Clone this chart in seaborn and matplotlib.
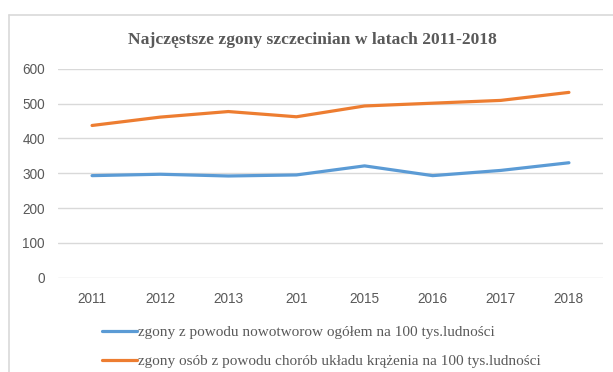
import matplotlib
matplotlib.use("Agg")
import matplotlib.pyplot as plt
import seaborn as sns
import pandas as pd
from matplotlib.lines import Line2D

# Year labels as printed on the axis
years = ["2011", "2012", "2013", "201", "2015", "2016", "2017", "2018"]
# Deaths per 100k inhabitants
cancer = [293, 297, 292, 295, 321, 293, 308, 330]
circulatory = [437, 461, 477, 462, 493, 501, 509, 532]
series_names = [
    "zgony z powodu nowotworow ogółem na 100 tys.ludności",
    "zgony osób z powodu chorób układu krążenia na 100 tys.ludności",
]
y_ticks = [0, 100, 200, 300, 400, 500, 600]

blue = "#5b9bd5"
orange = "#ed7d31"
grey_text = "#595959"
grid_col = "#d9d9d9"

sns.set_theme(style="white")
plt.rcParams["font.family"] = ["Liberation Sans", "DejaVu Sans"]

pos = list(range(len(years)))
df = pd.DataFrame({
    "pos": pos * 2,
    "value": cancer + circulatory,
    "series": [series_names[0]] * len(years) + [series_names[1]] * len(years),
})

fig = plt.figure(figsize=(6.13, 3.72), dpi=100)
fig.patch.set_facecolor("white")
ax = fig.add_axes([58 / 613, (372 - 277.7) / 372, 545 / 613, 209 / 372])

sns.lineplot(data=df, x="pos", y="value", hue="series",
             palette=[blue, orange], linewidth=2.3, ax=ax, legend=False,
             sort=False)
for ln in ax.get_lines():
    ln.set_solid_capstyle("round")
    ln.set_solid_joinstyle("round")

ax.set_xlim(-0.5, len(years) - 0.5)
ax.set_ylim(0, 600)
ax.set_yticks(y_ticks)
ax.set_xticks(pos)
ax.set_xticklabels(years)
ax.set_xlabel("")
ax.set_ylabel("")
ax.yaxis.grid(True, color=grid_col, linewidth=1.0)
ax.xaxis.grid(False)
ax.set_axisbelow(True)
for s in ax.spines.values():
    s.set_visible(False)
ax.tick_params(axis="both", length=0, labelsize=9.8, colors=grey_text)
ax.tick_params(axis="y", pad=9.5)
ax.tick_params(axis="x", pad=10.2)

fig.text(312 / 613, 1 - 40 / 372, "Najczęstsze zgony szczecinian w latach 2011-2018",
         ha="center", va="center", fontsize=12.6, fontweight="bold",
         color=grey_text, family=["Liberation Serif", "DejaVu Serif"])

handles = [Line2D([], [], color=blue, linewidth=2.3),
           Line2D([], [], color=orange, linewidth=2.3)]
leg = fig.legend(handles, series_names, loc="upper left",
                 bbox_to_anchor=(88 / 613, 1 - 312 / 372), frameon=False,
                 handlelength=2.3, handletextpad=0.05, labelspacing=1.0,
                 prop={"family": ["Liberation Serif", "DejaVu Serif"], "size": 11})
for t in leg.get_texts():
    t.set_color(grey_text)

# outer chart frame
fig.add_artist(Line2D([9 / 613, 9 / 613], [0, 1 - 15 / 372], color=grid_col,
                      linewidth=1.2, transform=fig.transFigure))
fig.add_artist(Line2D([9 / 613, 1], [1 - 15 / 372, 1 - 15 / 372], color=grid_col,
                      linewidth=1.2, transform=fig.transFigure))

fig.savefig("out.png", dpi=100)
